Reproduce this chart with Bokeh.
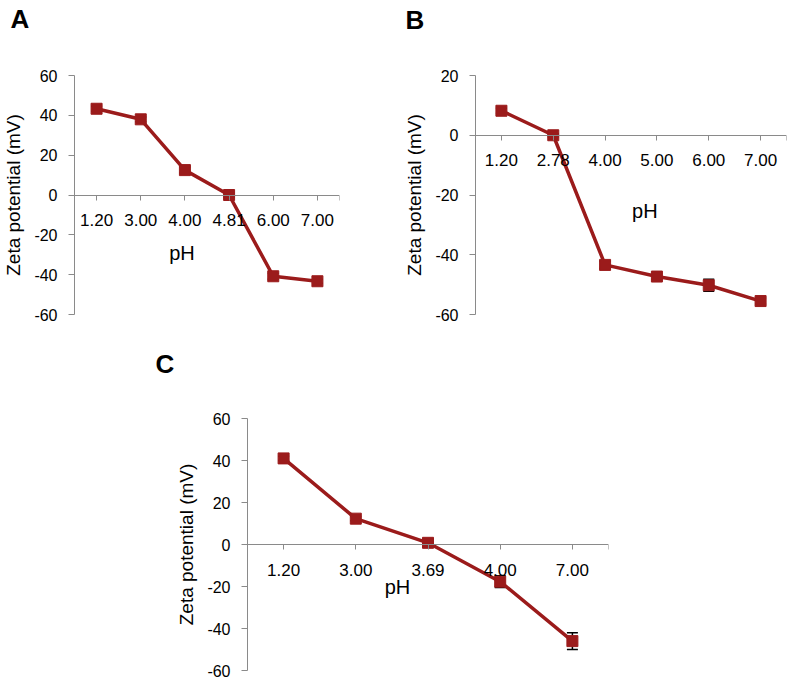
from bokeh.plotting import figure
from bokeh.models import Range1d, FixedTicker, ColumnDataSource, Whisker, TeeHead, Spacer
from bokeh.layouts import column, row
from bokeh.embed import file_html
from bokeh.resources import INLINE

# ---------------- data ----------------
cats_a = ["1.20", "3.00", "4.00", "4.81", "6.00", "7.00"]
zeta_a = [43.3, 38.0, 12.5, 0.0, -40.8, -43.3]
err_a = [1.2, 1.2, 1.5, 1.0, 1.5, 1.0]
yticks_a = [-60, -40, -20, 0, 20, 40, 60]

cats_b = ["1.20", "2.78", "4.00", "5.00", "6.00", "7.00"]
zeta_b = [8.2, 0.0, -43.4, -47.3, -50.2, -55.5]
err_b = [0.8, 0.5, 1.2, 1.0, 2.0, 1.0]
yticks_b = [-60, -40, -20, 0, 20]

cats_c = ["1.20", "3.00", "3.69", "4.00", "7.00"]
zeta_c = [41.0, 12.3, 0.8, -17.7, -46.0]
err_c = [1.0, 1.0, 1.0, 2.8, 4.0]
yticks_c = [-60, -40, -20, 0, 20, 40, 60]

FONT = "Liberation Sans"
RED = "#9b1b1b"
AXIS = "#8a8a8a"
NB = "\u00a0"


def panel(letter, cats, zeta, err, yticks, frame_w, frame_h, borders,
          title_offset, title_pad, xlab_standoff, xlab_shift):
    l, r, t, b = borders
    n = len(cats)
    p = figure(width=l + frame_w + r, height=t + frame_h + b,
               x_range=Range1d(0, n), y_range=Range1d(min(yticks), max(yticks)),
               output_backend="svg", toolbar_location=None,
               min_border_left=l, min_border_right=r,
               min_border_top=t, min_border_bottom=b)
    p.grid.visible = False
    p.outline_line_color = None
    p.background_fill_color = "white"
    p.border_fill_color = "white"

    p.title.text = letter
    p.title.align = "left"
    p.title.offset = title_offset
    p.title.standoff = 0
    p.title.padding = dict(left=0, right=0, top=0, bottom=title_pad)
    p.title.text_font = FONT
    p.title.text_font_size = "26px"
    p.title.text_font_style = "bold"
    p.title.text_color = "black"

    xs = [i + 0.5 for i in range(n)]
    upper = [z + e for z, e in zip(zeta, err)]
    lower = [z - e for z, e in zip(zeta, err)]
    src = ColumnDataSource(dict(x=xs, zeta=zeta, upper=upper, lower=lower))

    wh = Whisker(base="x", upper="upper", lower="lower", source=src,
                 line_color="black", line_width=1.5, level="underlay",
                 upper_head=TeeHead(size=11, line_color="black", line_width=1.5),
                 lower_head=TeeHead(size=11, line_color="black", line_width=1.5))
    p.add_layout(wh)
    p.line("x", "zeta", source=src, line_color=RED, line_width=3.5)
    p.scatter("x", "zeta", source=src, marker="square", size=11,
              fill_color=RED, line_color=RED)

    # y axis
    ya = p.yaxis[0]
    ya.ticker = FixedTicker(ticks=yticks)
    ya.major_label_overrides = {v: str(v) for v in yticks}
    ya.axis_line_color = AXIS
    ya.major_tick_line_color = AXIS
    ya.major_tick_out = 6
    ya.major_tick_in = 0
    ya.minor_tick_line_color = None
    ya.major_label_text_font = FONT
    ya.major_label_text_font_size = "16px"
    ya.major_label_text_color = "black"
    ya.major_label_standoff = 11
    ya.axis_label = "Zeta potential (mV)"
    ya.axis_label_text_font = FONT
    ya.axis_label_text_font_size = "19px"
    ya.axis_label_text_font_style = "normal"
    ya.axis_label_text_color = "black"
    ya.axis_label_standoff = 7

    # x axis crossing at zero
    xa = p.xaxis[0]
    xa.fixed_location = 0
    ticks = xs + [n]
    xa.ticker = FixedTicker(ticks=ticks)
    ov = {x: c for x, c in zip(xs, cats)}
    ov[n] = ""
    xa.major_label_overrides = ov
    xa.axis_line_color = AXIS
    xa.major_tick_line_color = AXIS
    xa.major_tick_out = 5
    xa.major_tick_in = 0
    xa.minor_tick_line_color = None
    xa.major_label_text_font = FONT
    xa.major_label_text_font_size = "17px"
    xa.major_label_text_color = "black"
    xa.major_label_standoff = 14
    # non-breaking spaces only nudge the centred title sideways
    if xlab_shift < 0:
        xa.axis_label = "pH" + NB * (-xlab_shift)
    else:
        xa.axis_label = NB * xlab_shift + "pH"
    xa.axis_label_text_font = FONT
    xa.axis_label_text_font_size = "20px"
    xa.axis_label_text_font_style = "normal"
    xa.axis_label_text_color = "black"
    xa.axis_label_standoff = xlab_standoff
    return p


pa = panel("A", cats_a, zeta_a, err_a, yticks_a, 265, 239, (74, 40, 75, 31),
           -64, 42, 12, -9)
pb = panel("B", cats_b, zeta_b, err_b, yticks_b, 311, 243, (96, 1, 73, 29),
           -70, 41, 30, 5)
pc = panel("C", cats_c, zeta_c, err_c, yticks_c, 361, 252, (97, 20, 73, 12),
           -92, 40, -3, -11)

layout = column(row(pa, pb), row(Spacer(width=150, height=10), pc))

open("out.html", "w").write(file_html(layout, INLINE))
